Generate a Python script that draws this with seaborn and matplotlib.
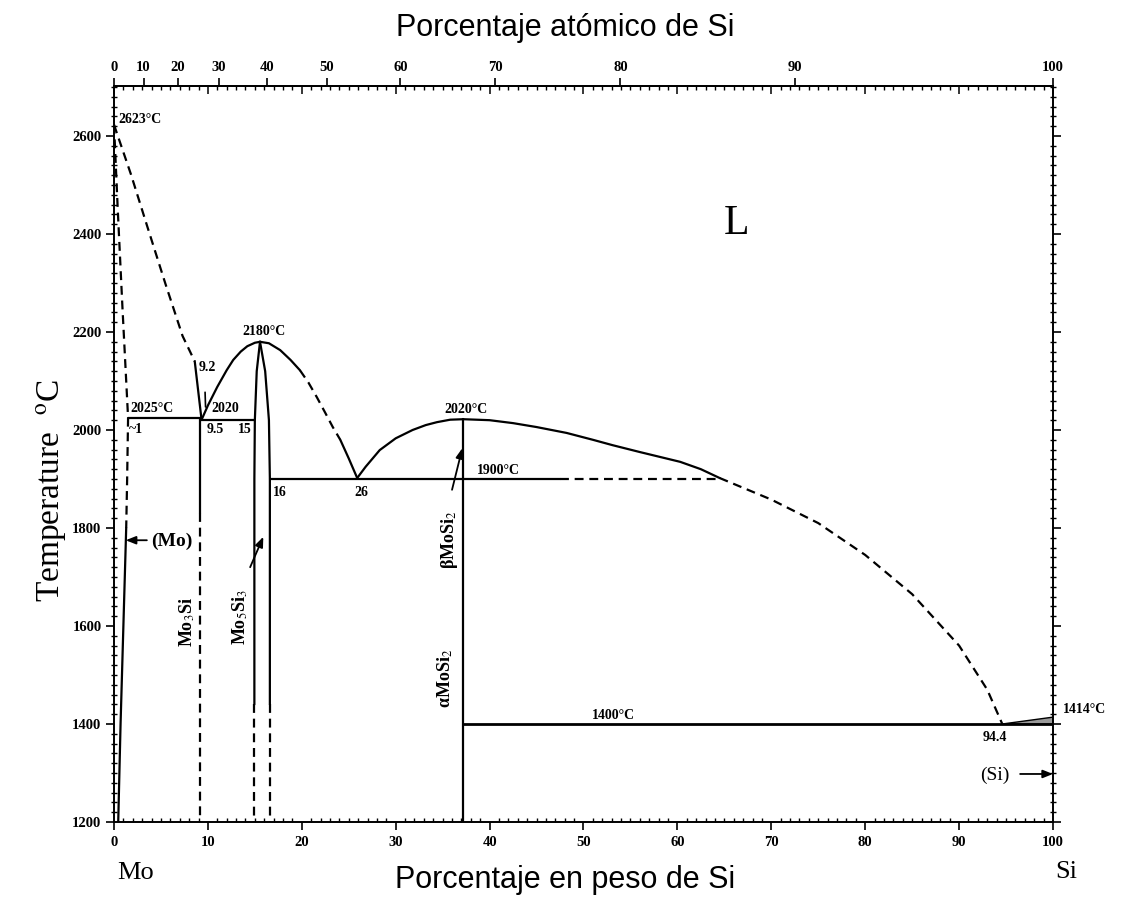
import numpy as np
import matplotlib
matplotlib.use("Agg")
import matplotlib.pyplot as plt
from matplotlib.ticker import MultipleLocator, FixedLocator, NullFormatter
import seaborn as sns

# ---------------- data (wt% Si, temperature degC) ----------------
mo_solidus_x = [0.0, 0.4, 0.9, 1.5]
mo_solidus_T = [2623, 2450, 2250, 2025]
mo_solvus_dash_x = [1.5, 1.4, 1.3]
mo_solvus_dash_T = [2025, 1900, 1800]
mo_solvus_x = [1.3, 1.0, 0.7, 0.45]
mo_solvus_T = [1800, 1600, 1400, 1200]

liq_mo_dash_x = [0.0, 1.8, 3.6, 5.5, 7.3, 8.6]
liq_mo_dash_T = [2623, 2522, 2412, 2297, 2192, 2140]
liq_mo_solid_x = [8.6, 9.3]
liq_mo_solid_T = [2140, 2025]

mo3si_x = 9.2
mo3si_solid_T = [2025, 1830]
mo3si_dash_T = [1830, 1200]

mo5si3_left_x = [15.55, 15.2, 15.0, 14.95, 14.95]
mo5si3_left_T = [2180, 2120, 2020, 1900, 1440]
mo5si3_right_x = [15.55, 16.1, 16.5, 16.6, 16.6]
mo5si3_right_T = [2180, 2120, 2020, 1900, 1440]
mo5si3_dash_x = [14.95, 16.6]
mo5si3_dash_T = [1440, 1200]

liq_53_left_x = [9.4, 10.0, 11.0, 12.0, 12.7, 13.5, 14.2, 15.0, 15.55]
liq_53_left_T = [2024, 2050, 2088, 2122, 2143, 2160, 2171, 2178, 2180]
liq_53_right_x = [15.55, 16.5, 17.7, 18.8, 19.8]
liq_53_right_T = [2180, 2177, 2163, 2143, 2122]
liq_53_dash_x = [19.8, 20.7, 21.6, 22.5, 23.3, 24.1]
liq_53_dash_T = [2122, 2097, 2067, 2035, 2006, 1980]
liq_53_low_x = [24.1, 25.0, 25.9]
liq_53_low_T = [1980, 1942, 1902]

liq_mosi2_left_x = [25.9, 26.8, 28.3, 30.0, 31.8, 33.2, 34.4, 35.8, 37.2]
liq_mosi2_left_T = [1902, 1925, 1959, 1983, 2000, 2010, 2016, 2021, 2022]
liq_mosi2_right_x = [37.2, 40.0, 42.5, 45.0, 48.2, 51.0, 53.1, 56.0, 60.3, 62.5, 64.5]
liq_mosi2_right_T = [2022, 2020, 2014, 2006, 1994, 1980, 1969, 1955, 1935, 1920, 1902]
liq_si_dash_x = [64.5, 70.0, 75.0, 80.0, 85.0, 90.0, 93.0, 94.6]
liq_si_dash_T = [1902, 1858, 1810, 1745, 1665, 1560, 1470, 1400]

mosi2_x = 37.2
mosi2_T = [2022, 1200]

iso_2025_x = [1.5, 9.3]
iso_2020_x = [9.3, 14.95]
iso_1900_solid_x = [16.6, 47.5]
iso_1900_dash_x = [47.5, 64.5]
iso_1400_x = [37.2, 100.0]

si_liq_x = [94.6, 100.0, 100.0]
si_liq_T = [1400, 1414, 1400]

wt_ticks = [0, 10, 20, 30, 40, 50, 60, 70, 80, 90, 100]
at_ticks = [0, 10, 20, 30, 40, 50, 60, 70, 80, 90, 100]
T_ticks = [1200, 1400, 1600, 1800, 2000, 2200, 2400, 2600]

M_MO, M_SI = 95.95, 28.0855


def wt2at(w):
    w = np.asarray(w, dtype=float)
    a = w / M_SI
    b = (100.0 - w) / M_MO
    with np.errstate(divide="ignore", invalid="ignore"):
        return np.where(a + b == 0, 0.0, 100.0 * a / (a + b))


def at2wt(p):
    p = np.asarray(p, dtype=float)
    a = p * M_SI
    b = (100.0 - p) * M_MO
    with np.errstate(divide="ignore", invalid="ignore"):
        return np.where(a + b == 0, 0.0, 100.0 * a / (a + b))


def ident(v):
    return np.asarray(v, dtype=float)


# ---------------- figure ----------------
sns.set_theme(style="white")
plt.rcParams["font.family"] = ["Liberation Serif", "DejaVu Serif"]
plt.rcParams["mathtext.fontset"] = "stix"

fig = plt.figure(figsize=(11.3, 9.05), dpi=100)
ax = fig.add_axes([0.10088, 0.09171, 0.83097, 0.81326])

LW = 1.6
SOLID = "-"
DASH = (0, (4.0, 2.6))
K = "black"


def seg(x, y, ls=SOLID, lw=LW):
    sns.lineplot(x=list(x), y=list(y), ax=ax, sort=False, estimator=None,
                 color=K, linewidth=lw, linestyle=ls, legend=False)


seg(mo_solidus_x, mo_solidus_T, DASH)
seg(mo_solvus_dash_x, mo_solvus_dash_T, DASH)
seg(mo_solvus_x, mo_solvus_T)
seg(liq_mo_dash_x, liq_mo_dash_T, DASH)
seg(liq_mo_solid_x, liq_mo_solid_T)
seg([mo3si_x, mo3si_x], mo3si_solid_T)
seg([mo3si_x, mo3si_x], mo3si_dash_T, DASH)
seg(mo5si3_left_x, mo5si3_left_T)
seg(mo5si3_right_x, mo5si3_right_T)
seg([mo5si3_dash_x[0]] * 2, mo5si3_dash_T, DASH)
seg([mo5si3_dash_x[1]] * 2, mo5si3_dash_T, DASH)
seg(liq_53_left_x, liq_53_left_T)
seg(liq_53_right_x, liq_53_right_T)
seg(liq_53_dash_x, liq_53_dash_T, DASH)
seg(liq_53_low_x, liq_53_low_T)
seg(liq_mosi2_left_x, liq_mosi2_left_T)
seg(liq_mosi2_right_x, liq_mosi2_right_T)
seg(liq_si_dash_x, liq_si_dash_T, DASH)
seg([mosi2_x, mosi2_x], mosi2_T)
seg(iso_2025_x, [2025, 2025])
seg(iso_2020_x, [2020, 2020])
seg(iso_1900_solid_x, [1900, 1900])
seg(iso_1900_dash_x, [1900, 1900], DASH)
seg(iso_1400_x, [1400, 1400], lw=2.0)
ax.fill(si_liq_x, si_liq_T, color="#9a9a9a", linewidth=1.0, edgecolor=K)

# short pointer for 9.2
seg([9.7, 9.75], [2077, 2047], lw=1.2)

# ---------------- axes ----------------
ax.set_xlim(0, 100)
ax.set_ylim(1200, 2702)
ax.xaxis.set_major_locator(FixedLocator(wt_ticks))
ax.xaxis.set_minor_locator(MultipleLocator(1))
ax.yaxis.set_major_locator(FixedLocator(T_ticks))
ax.yaxis.set_minor_locator(MultipleLocator(20))
for s in ax.spines.values():
    s.set_color(K)
    s.set_linewidth(1.4)

tick_font = dict(family="Liberation Serif", weight="bold", size=10.5)
ax.set_xticklabels([str(t) for t in wt_ticks], fontdict=tick_font)
ax.set_yticklabels([str(t) for t in T_ticks], fontdict=tick_font)
ax.tick_params(axis="x", which="major", direction="out", length=6, width=1.2,
               top=False, bottom=True, labeltop=False, colors=K, pad=4)
ax.tick_params(axis="x", which="minor", direction="in", length=3, width=1.0,
               top=False, bottom=True, colors=K)
ax.tick_params(axis="y", which="major", direction="out", length=6, width=1.2,
               left=True, right=True, labelright=False, colors=K, pad=3)
ax.tick_params(axis="y", which="minor", direction="inout", length=4, width=1.0,
               left=True, right=True, colors=K)

# top: wt% ticks pointing inward
top_wt = ax.secondary_xaxis("top", functions=(ident, ident))
top_wt.xaxis.set_major_locator(FixedLocator(wt_ticks))
top_wt.xaxis.set_minor_locator(MultipleLocator(1))
top_wt.xaxis.set_major_formatter(NullFormatter())
top_wt.tick_params(axis="x", which="major", direction="in", length=6, width=1.1,
                   colors=K)
top_wt.tick_params(axis="x", which="minor", direction="in", length=3, width=1.0,
                   colors=K)
top_wt.spines["top"].set_linewidth(1.4)

# top: atomic % ticks pointing outward with labels
sec = ax.secondary_xaxis("top", functions=(wt2at, at2wt))
sec.xaxis.set_major_locator(FixedLocator(at_ticks))
sec.xaxis.set_minor_locator(FixedLocator([]))
sec.set_xticks(at_ticks)
sec.set_xticklabels([str(t) for t in at_ticks], fontdict=tick_font)
sec.tick_params(axis="x", which="major", direction="out", length=6, width=1.2,
                colors=K, pad=3)
sec.spines["top"].set_linewidth(1.4)

ax.set_xlabel("")
ax.set_ylabel("")

# axis titles
fig.text(565 / 1130, 1 - 28 / 905, "Porcentaje atómico de Si", ha="center",
         va="center", fontsize=22, family="Liberation Sans", color=K)
fig.text(565 / 1130, 1 - 880 / 905, "Porcentaje en peso de Si", ha="center",
         va="center", fontsize=22, family="Liberation Sans", color=K)
fig.text(52 / 1130, 1 - 490 / 905, "Temperature  $^{\\mathrm{o}}$C", ha="center",
         va="center", rotation=90, fontsize=24, family="Liberation Serif", color=K)
fig.text(136 / 1130, 1 - 873 / 905, "Mo", ha="center", va="center",
         fontsize=19, family="Liberation Serif", color=K)
fig.text(1066 / 1130, 1 - 872 / 905, "Si", ha="center", va="center",
         fontsize=19, family="Liberation Serif", color=K)

# ---------------- annotations ----------------
lab = dict(family="Liberation Serif", weight="bold", size=10, color=K)


def t(x, y, s, ha="left", va="center", rot=0, **kw):
    d = dict(lab)
    d.update(kw)
    ax.text(x, y, s, ha=ha, va=va, rotation=rot, clip_on=False, **d)


t(0.43, 2633, "2623°C")
t(15.97, 2202, "2180°C", ha="center")
t(9.9, 2127, "9.2", ha="center")
t(1.7, 2043, "2025°C")
t(10.4, 2043, "2020")
t(1.6, 2000, "~1")
t(9.9, 2000, "9.5")
t(13.2, 2000, "15")
t(16.9, 1873, "16")
t(26.3, 1873, "26", ha="center")
t(37.5, 2041, "2020°C", ha="center")
t(38.7, 1918, "1900°C")
t(50.9, 1418, "1400°C")
t(92.5, 1373, "94.4")
t(101.1, 1429, "1414°C")
t(93.8, 1296, "(Si)", ha="center", size=14, weight="normal")
t(6.2, 1773, "(Mo)", ha="center", size=14)
t(7.8, 1608, "Mo$_{3}$Si", ha="center", rot=90, size=13)
t(13.4, 1618, "Mo$_{5}$Si$_{3}$", ha="center", rot=90, size=13)
t(35.7, 1776, "βMoSi$_{2}$", ha="center", rot=90, size=13)
t(35.25, 1494, "αMoSi$_{2}$", ha="center", rot=90, size=13)
t(66.3, 2420, "L", ha="center", size=30, weight="normal")

arrow = dict(arrowstyle="-|>,head_length=0.5,head_width=0.2", color=K, lw=1.3,
             shrinkA=0, shrinkB=0)
ax.annotate("", xy=(100.0, 1298), xytext=(96.5, 1298), arrowprops=arrow)
ax.annotate("", xy=(1.25, 1775), xytext=(3.5, 1775), arrowprops=arrow)
ax.annotate("", xy=(15.9, 1782), xytext=(14.5, 1720), arrowprops=arrow)
ax.annotate("", xy=(37.1, 1963), xytext=(36.0, 1878), arrowprops=arrow)

fig.savefig("out.png", dpi=100, facecolor="white")
